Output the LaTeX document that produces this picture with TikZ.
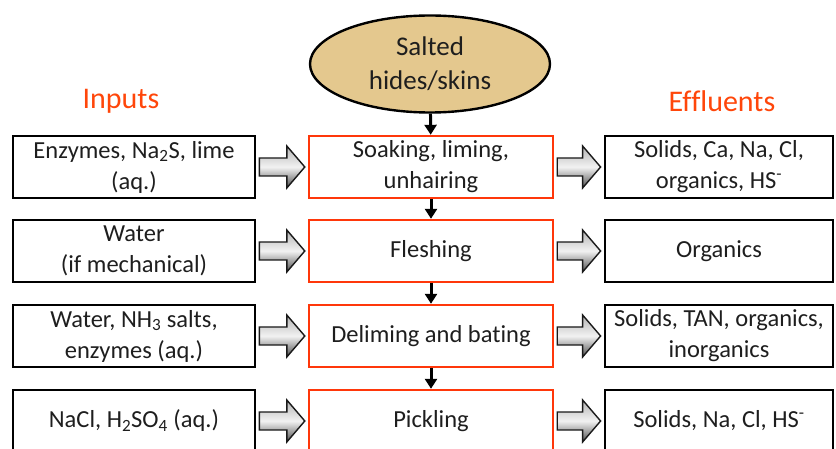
\documentclass[tikz,border=0pt]{standalone}
\usepackage{fontspec}
\setmainfont{Carlito}[Ligatures=NoCommon]
\usetikzlibrary{shapes.geometric,arrows.meta,calc}
\definecolor{procred}{RGB}{255,55,10}
\definecolor{headred}{RGB}{255,70,10}
\definecolor{hidetan}{RGB}{228,200,142}
\definecolor{inkgray}{RGB}{30,30,30}
\newcommand{\hollowarrow}[2]{%
  \path let \p1=(#1.east), \p2=(#2.west) in
    [draw=black!90, line width=1.4pt, line join=miter,
     top color=gray!60, bottom color=black!70, middle color=gray!10]
    (\x1+3pt,\y1+9pt) -- (\x2-21pt,\y1+9pt) -- (\x2-21pt,\y1+21pt)
    -- (\x2-3pt,\y1) -- (\x2-21pt,\y1-21pt) -- (\x2-21pt,\y1-9pt)
    -- (\x1+3pt,\y1-9pt) -- cycle;}
\begin{document}
\begin{tikzpicture}[x=1pt,y=-1pt,
  txt/.style={align=center,text=inkgray,font=\fontsize{24.5}{31}\selectfont,inner sep=0pt},
  inbox/.style={txt,draw=black,line width=2.8pt,minimum width=242pt,minimum height=62pt},
  outbox/.style={inbox,minimum width=228pt},
  procbox/.style={txt,draw=procred,line width=2.4pt,minimum width=244pt,minimum height=62pt},
  hidenode/.style={ellipse,draw=black,line width=2.4pt,fill=hidetan,text=inkgray,
     minimum width=240pt,minimum height=97pt,inner sep=0pt,align=center,
     font=\fontsize{27}{34}\selectfont},
  heading/.style={text=headred,font=\fontsize{30}{34}\selectfont,inner sep=0pt},
  down/.style={-{Triangle[length=10pt,width=12pt]},line width=3pt,draw=black}]
\useasboundingbox (0,0) rectangle (836,449);
\clip (0,0) rectangle (836,449);

\node[hidenode] (salt) at (430,64) {Salted\\hides/skins};
\node[heading] (hin) at (121,101) {Inputs};
\node[heading] (hout) at (722,101) {Effluents};

\node[inbox] (in1) at (134,167) {Enzymes, Na\textsubscript{2}S, lime\\(aq.)};
\node[inbox] (in2) at (134,251) {Water\\(if mechanical)};
\node[inbox] (in3) at (134,336) {Water, NH\textsubscript{3} salts,\\enzymes (aq.)};
\node[inbox] (in4) at (134,421) {NaCl, H\textsubscript{2}SO\textsubscript{4} (aq.)};

\node[procbox] (p1) at (431,167) {Soaking, liming,\\unhairing};
\node[procbox] (p2) at (431,251) {Fleshing};
\node[procbox] (p3) at (431,336) {Deliming and bating};
\node[procbox] (p4) at (431,421) {Pickling};

\node[outbox] (out1) at (719,167) {Solids, Ca, Na, Cl,\\organics, HS\textsuperscript{-}};
\node[outbox] (out2) at (719,251) {Organics};
\node[outbox] (out3) at (719,336) {Solids, TAN, organics,\\inorganics};
\node[outbox] (out4) at (719,421) {Solids, Na, Cl, HS\textsuperscript{-}};

\draw[down] (salt) -- (p1);
\draw[down] (p1) -- (p2);
\draw[down] (p2) -- (p3);
\draw[down] (p3) -- (p4);

\hollowarrow{in1}{p1}
\hollowarrow{in2}{p2}
\hollowarrow{in3}{p3}
\hollowarrow{in4}{p4}
\hollowarrow{p1}{out1}
\hollowarrow{p2}{out2}
\hollowarrow{p3}{out3}
\hollowarrow{p4}{out4}
\end{tikzpicture}
\end{document}
